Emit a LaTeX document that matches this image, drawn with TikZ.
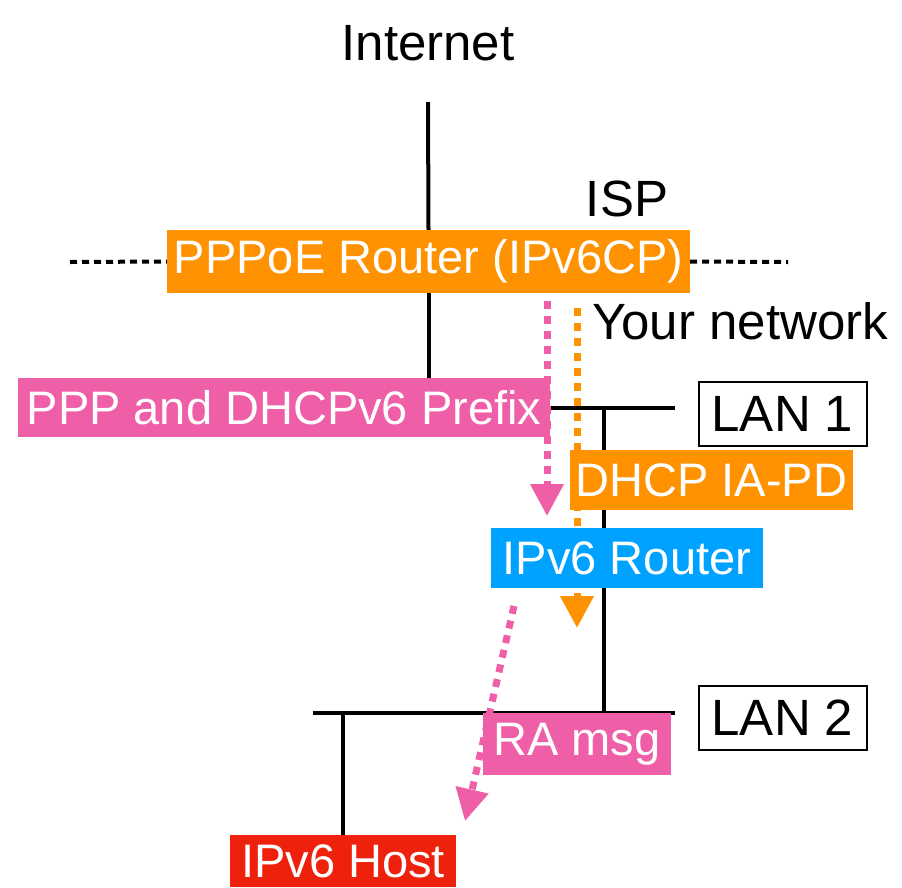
\documentclass[tikz,border=0pt]{standalone}
\usepackage{fontspec}
\setmainfont{Liberation Sans}
\usetikzlibrary{arrows.meta,backgrounds}
\definecolor{isporange}{RGB}{255,146,0}
\definecolor{prefixpink}{RGB}{238,95,167}
\definecolor{routerblue}{RGB}{0,162,255}
\definecolor{hostred}{RGB}{238,34,12}

\begin{document}
\begin{tikzpicture}[
  x=1pt, y=-1pt,
  every node/.style={font=\fontsize{51}{56}\selectfont, inner sep=0pt},
  box/.style={text=white, minimum height=60pt, font=\fontsize{47}{52}\selectfont},
  lanbox/.style={draw, line width=2pt, minimum width=168pt, minimum height=64pt},
  wire/.style={line width=4pt},
  border/.style={line width=4pt, dash pattern=on 7pt off 5pt},
  msg/.style={line width=7pt, dash pattern=on 8pt off 7pt,
    -{Triangle[length=32pt, width=32pt]}}
]
\useasboundingbox (0,0) rectangle (902,887);

\node (inet) at (428,43) {Internet};
\node (isp) at (627,199) {ISP};
\node (yours) at (740,321) {Your network};
\node[box, fill=isporange, minimum width=523pt, minimum height=63pt] (pppoe) at (428.5,261.5) {PPPoE Router (IPv6CP)};
\node[box, fill=prefixpink, minimum width=532pt, minimum height=59pt] (ppp) at (284,407.5) {PPP and DHCPv6 Prefix};
\node[lanbox] (lan1) at (782.5,413.5) {LAN 1};
\node[box, fill=isporange, minimum width=283pt] (dhcp) at (711.5,480) {DHCP IA-PD};
\node[box, fill=routerblue, minimum width=272pt] (router) at (627,558) {IPv6 Router};
\node[lanbox] (lan2) at (782.5,718) {LAN 2};
\node[box, fill=prefixpink, minimum width=188pt, minimum height=62pt] (ra) at (577,744) {RA msg};
\node[box, fill=hostred, minimum width=226pt, minimum height=52pt] (host) at (343,861) {IPv6 Host};

\coordinate (up) at (428,102);
\coordinate (ispw) at (70,262);
\coordinate (ispe) at (788,262);
\coordinate (lan1e) at (675,408);
\coordinate (lan1t) at (604,408);
\coordinate (lan2w) at (313,713);
\coordinate (lan2e) at (675,713);
\coordinate (pd1) at (547,301);
\coordinate (pd2) at (547,516);
\coordinate (ia1) at (577,308);
\coordinate (ia2) at (577,628);
\coordinate (ra1) at (514,606);
\coordinate (ra2) at (465,821);

\begin{scope}[on background layer]
\draw[wire] (up) -- (pppoe.north);
\draw[wire] (pppoe.south) -- (pppoe.south |- ppp.north);
\draw[border] (ispw) -- (pppoe.west);
\draw[border] (pppoe.east) -- (ispe);
\draw[wire] (ppp.east |- lan1e) -- (lan1e);
\draw[wire] (lan1t) -- (lan1t |- router.north);
\draw[wire] (lan1t |- router.south) -- (lan1t |- lan2e);
\draw[wire] (lan2w) -- (lan2e);
\draw[wire] (host.north) -- (host.north |- lan2w);
\draw[msg, prefixpink] (pd1) -- (pd2);
\draw[msg, isporange] (ia1) -- (ia2);
\draw[msg, prefixpink] (ra1) -- (ra2);
\end{scope}
\end{tikzpicture}
\end{document}
